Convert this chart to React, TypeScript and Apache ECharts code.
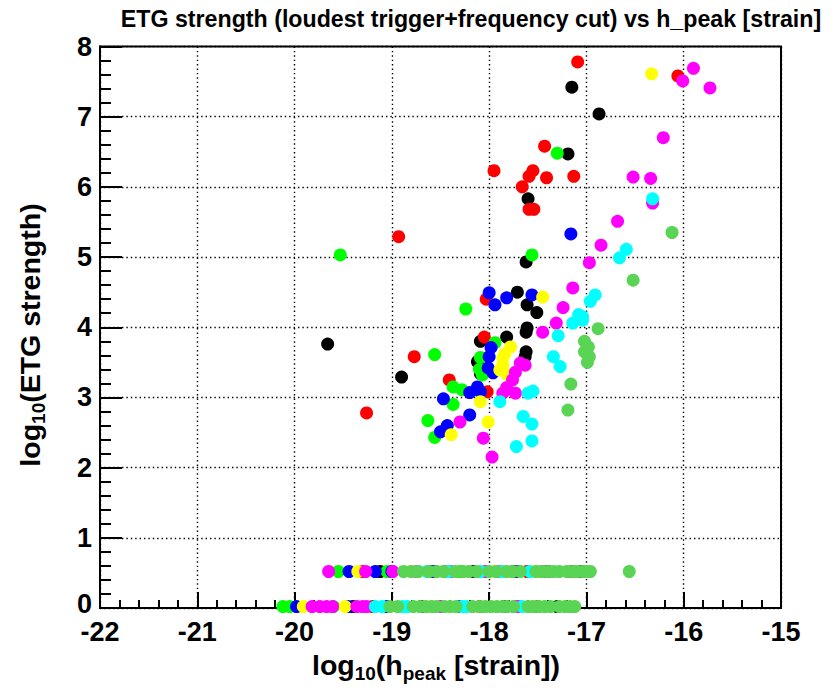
import React, { useEffect, useRef } from "react";
import * as echarts from "echarts";

// ---- data (log10 h_peak, log10 ETG strength) ----
const blackPoints: [number, number][] = [
  [-17.15, 7.42], [-16.87, 7.04], [-17.19, 6.47], [-17.60, 5.83], [-17.62, 4.93],
  [-19.66, 3.76], [-18.90, 3.29], [-17.71, 4.50], [-17.61, 4.32], [-17.51, 4.21],
  [-17.61, 3.99], [-17.82, 3.86], [-17.62, 3.65], [-17.63, 3.58], [-18.09, 3.80],
  [-18.12, 3.51], [-18.09, 3.34], [-17.62, 3.93],
];
const redPoints: [number, number][] = [
  [-17.09, 7.78], [-16.06, 7.58], [-17.43, 6.58], [-17.95, 6.23], [-17.55, 6.23],
  [-17.59, 6.15], [-17.41, 6.13], [-17.66, 6.00], [-17.59, 5.68], [-17.54, 5.68],
  [-17.13, 6.15], [-18.93, 5.29], [-18.77, 3.58], [-19.26, 2.78], [-18.41, 3.25],
  [-18.05, 3.86], [-18.03, 4.40], [-18.02, 3.08],
];
const greenPoints: [number, number][] = [
  [-17.30, 6.48], [-17.56, 5.03], [-19.53, 5.03], [-18.24, 4.26], [-18.56, 3.61],
  [-18.37, 3.15], [-18.28, 3.11], [-18.37, 2.90], [-18.63, 2.67], [-18.56, 2.43],
  [-18.09, 3.57], [-18.07, 3.32], [-17.94, 3.78], [-18.10, 3.40],
];
const bluePoints: [number, number][] = [
  [-17.16, 5.33], [-18.00, 4.49], [-17.94, 4.32], [-17.82, 4.42], [-17.56, 4.46],
  [-17.98, 3.71], [-18.00, 3.58], [-18.01, 3.42], [-17.96, 3.35], [-18.12, 3.15],
  [-18.20, 3.07], [-18.47, 2.98], [-18.20, 2.75], [-18.43, 2.60], [-18.50, 2.51],
  [-18.09, 3.08],
];
const yellowPoints: [number, number][] = [
  [-16.33, 7.61], [-17.45, 4.43], [-17.78, 3.72], [-17.86, 3.56], [-17.86, 3.46],
  [-17.89, 3.39], [-17.81, 3.32], [-18.09, 2.94], [-18.01, 2.65], [-18.39, 2.47],
  [-17.84, 3.62],
];
const magentaPoints: [number, number][] = [
  [-15.90, 7.69], [-16.01, 7.51], [-15.73, 7.41], [-16.21, 6.70], [-16.52, 6.14],
  [-16.34, 6.12], [-16.32, 5.77], [-16.68, 5.51], [-16.85, 5.17], [-16.97, 4.92],
  [-17.14, 4.56], [-17.24, 4.28], [-17.31, 4.06], [-17.45, 3.93], [-17.63, 3.46],
  [-17.68, 3.49], [-17.73, 3.36], [-17.76, 3.25], [-17.82, 3.14], [-17.73, 3.06],
  [-17.86, 3.06], [-18.30, 2.65], [-18.06, 2.42], [-17.97, 2.15],
];
const cyanPoints: [number, number][] = [
  [-16.32, 5.83], [-16.59, 5.11], [-16.66, 4.99], [-16.91, 4.46], [-16.96, 4.37],
  [-17.04, 4.15], [-17.08, 4.18], [-17.14, 4.06], [-17.04, 4.10], [-17.29, 3.88],
  [-17.34, 3.58], [-17.27, 3.44], [-17.55, 3.09], [-17.60, 3.06], [-17.89, 2.94],
  [-17.65, 2.73], [-17.56, 2.62], [-17.56, 2.38], [-17.72, 2.30],
];
const olivePoints: [number, number][] = [
  [-16.12, 5.35], [-16.52, 4.67], [-16.88, 3.98], [-17.02, 3.80], [-16.98, 3.72],
  [-17.02, 3.65], [-16.97, 3.58], [-16.99, 3.50], [-17.16, 3.19], [-17.19, 2.82],
];

// points piled on the two low strength rows (x values only)
const HIGH_ROW = 0.52;
const LOW_ROW = 0.02;
const blackHigh = [-19.12, -18.56, -18.16, -17.75, -17.40, -17.05];
const blackLow = [-19.40, -18.70, -17.85, -17.30];
const redHigh = [-19.30, -18.45, -17.61, -17.15];
const redLow = [-19.20, -18.10, -17.50];
const greenHigh = [-19.55, -19.05, -18.30, -17.90];
const greenLow = [-20.12, -20.05, -19.60];
const blueHigh = [-19.44, -19.17, -19.00, -18.60, -17.70];
const blueLow = [-19.98, -19.45, -19.05, -18.30];
const yellowHigh = [-19.35, -18.80, -17.94, -17.50];
const yellowLow = [-19.91, -19.48, -18.60];
const magentaHigh = [-19.65, -19.27, -18.99, -18.74, -18.40, -17.89, -17.45, -18.04];
const magentaLow = [-19.82, -19.74, -19.67, -19.61, -19.36, -19.30, -19.26, -18.50, -17.73, -17.70];
const cyanHigh = [-18.64, -18.09, -17.58, -17.87, -18.42];
const cyanLow = [-19.17, -19.10, -18.89, -18.84, -18.28, -18.23, -17.66];
const oliveHigh = [
  -18.88, -18.80, -18.73, -18.62, -18.54, -18.47, -18.35, -18.27, -18.21, -18.13,
  -18.00, -17.93, -17.82, -17.76, -17.68, -17.52, -17.46, -17.40, -17.34, -17.28,
  -17.20, -17.14, -17.10, -17.04, -17.00, -16.96, -16.56,
];
const oliveLow = [
  -19.02, -18.94, -18.78, -18.71, -18.65, -18.59, -18.54, -18.46, -18.40, -18.34,
  -18.17, -18.10, -18.04, -17.98, -17.92, -17.86, -17.81, -17.75, -17.60, -17.55,
  -17.49, -17.43, -17.37, -17.28, -17.22, -17.17, -17.12,
];

const xTicks = [-22, -21, -20, -19, -18, -17, -16, -15];
const yTicks = [0, 1, 2, 3, 4, 5, 6, 7, 8];

const FONT = "'Liberation Sans', Arial, Helvetica, sans-serif";

const groups = [
  { color: "#000000", pts: blackPoints, hi: blackHigh, lo: blackLow },
  { color: "#ff0000", pts: redPoints, hi: redHigh, lo: redLow },
  { color: "#00ff00", pts: greenPoints, hi: greenHigh, lo: greenLow },
  { color: "#0000ff", pts: bluePoints, hi: blueHigh, lo: blueLow },
  { color: "#ffff00", pts: yellowPoints, hi: yellowHigh, lo: yellowLow },
  { color: "#ff00ff", pts: magentaPoints, hi: magentaHigh, lo: magentaLow },
  { color: "#00ffff", pts: cyanPoints, hi: cyanHigh, lo: cyanLow },
  { color: "#59d454", pts: olivePoints, hi: oliveHigh, lo: oliveLow },
];

export default function App() {
  const ref = useRef<HTMLDivElement>(null);
  useEffect(() => {
    document.body.style.margin = "0";
    if (!ref.current) return;
    const chart = echarts.init(ref.current, null, { renderer: "svg" });
    const labelBase = {
      color: "#000",
      fontFamily: FONT,
      fontWeight: "bold" as const,
      fontSize: 27,
      lineHeight: 20,
    };
    const axisCommon = {
      type: "value" as const,
      interval: 1,
      axisLine: { show: true, onZero: false, lineStyle: { color: "#000", width: 2 } },
      splitLine: { show: true, lineStyle: { color: "#000", width: 1.4, type: [1.4, 3] } },
    };
    const sub = { fontFamily: FONT, fontWeight: "bold", fontSize: 19, fill: "#000", padding: [16, 0, 0, 0] };
    const main = { fontFamily: FONT, fontWeight: "bold", fontSize: 28.5, fill: "#000" };
    chart.setOption({
      animation: false,
      grid: {
        left: 100,
        right: 55,
        top: 46.5,
        bottom: 86,
        show: true,
        borderColor: "#000",
        borderWidth: 2,
        backgroundColor: "#fff",
      },
      xAxis: {
        ...axisCommon,
        min: xTicks[0],
        max: xTicks[xTicks.length - 1],
        axisTick: { show: true, inside: true, length: 16, lineStyle: { color: "#000", width: 2 } },
        minorTick: { show: true, splitNumber: 5, length: 8, lineStyle: { color: "#000", width: 2 } },
        axisLabel: { ...labelBase, margin: 14 },
      },
      yAxis: {
        ...axisCommon,
        min: yTicks[0],
        max: yTicks[yTicks.length - 1],
        axisTick: { show: true, inside: true, length: 22, lineStyle: { color: "#000", width: 2 } },
        minorTick: { show: true, splitNumber: 5, length: 11, lineStyle: { color: "#000", width: 2 } },
        axisLabel: {
          ...labelBase,
          margin: 8,
          formatter: (v: number) => (v === 0 ? "{z|0}" : `${v}`),
          rich: {
            z: {
              color: "#000",
              fontFamily: FONT,
              fontWeight: "bold",
              fontSize: 27,
              lineHeight: 20,
              padding: [0, 0, 8, 0],
            },
          },
        },
      },
      graphic: [
        {
          type: "text",
          x: 471,
          y: 19,
          style: {
            text: "ETG strength (loudest trigger+frequency cut) vs h_peak [strain]",
            fontFamily: FONT,
            fontWeight: "bold",
            fontSize: 23.2,
            fill: "#000",
            align: "center",
            verticalAlign: "middle",
          },
        },
        {
          type: "text",
          x: 436,
          y: 665,
          style: {
            text: "{a|log}{b|10}{a|(h}{b|peak}{a| [strain])}",
            align: "center",
            verticalAlign: "middle",
            rich: { a: main, b: sub },
          },
        },
        {
          type: "text",
          x: 30,
          y: 335,
          rotation: Math.PI / 2,
          style: {
            text: "{a|log}{b|10}{a|(ETG strength)}",
            align: "center",
            verticalAlign: "middle",
            rich: { a: main, b: sub },
          },
        },
      ],
      series: groups.map((g) => ({
        type: "scatter",
        symbol: "circle",
        symbolSize: 13,
        silent: true,
        clip: false,
        itemStyle: { color: g.color, opacity: 1 },
        data: [
          ...g.pts,
          ...g.hi.map((x) => [x, HIGH_ROW]),
          ...g.lo.map((x) => [x, LOW_ROW]),
        ],
      })),
    });
    return () => chart.dispose();
  }, []);
  return <div ref={ref} style={{ width: 836, height: 694 }} />;
}
